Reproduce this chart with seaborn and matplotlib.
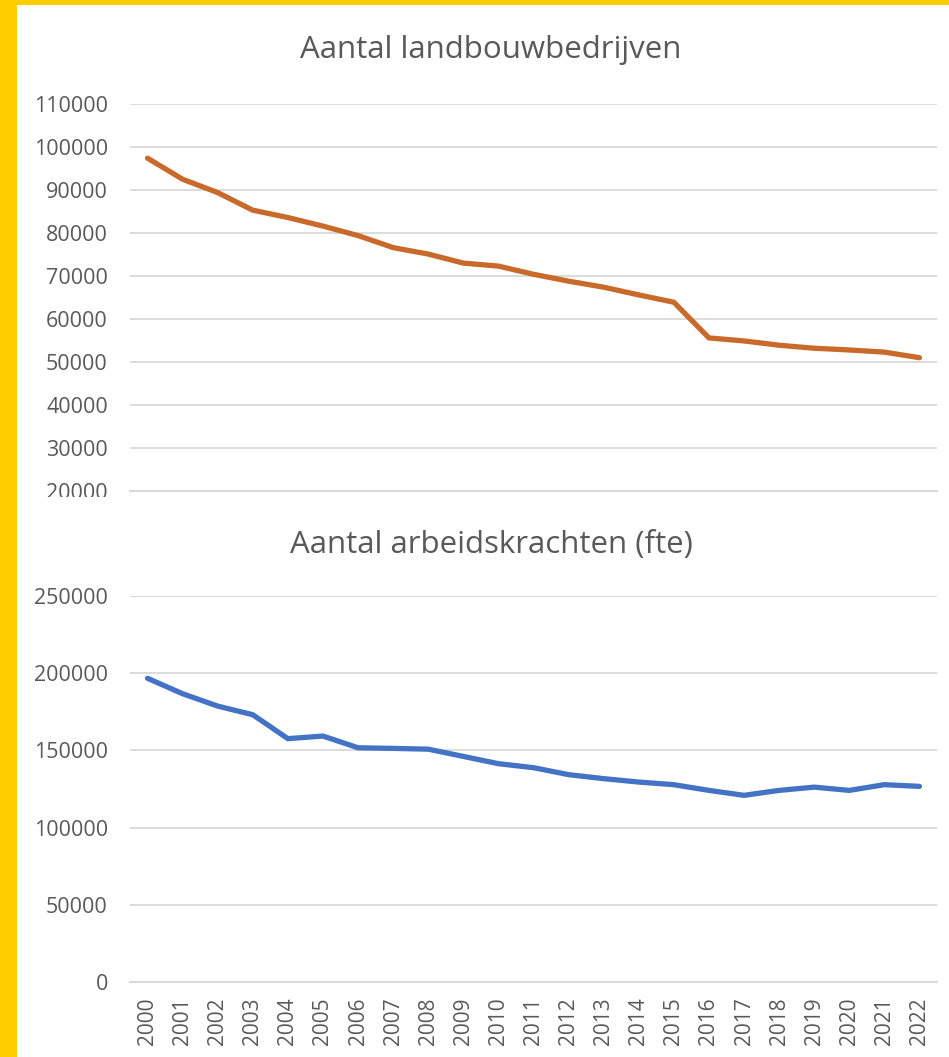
import pandas as pd
import matplotlib.pyplot as plt
import seaborn as sns
from matplotlib.patches import Rectangle

# data
years = list(range(2000, 2023))
bedrijven = [97400, 92500, 89400, 85300, 83600, 81600, 79400, 76600, 75100, 73000,
             72300, 70400, 68800, 67400, 65600, 63900, 55600, 54900, 53900, 53200,
             52800, 52300, 51000]
arbeidskrachten = [196700, 186700, 178700, 173100, 157600, 159300, 151700, 151300, 150800, 146100,
                   141400, 138800, 134300, 131700, 129500, 127800, 124100, 120900, 124100, 126200,
                   124100, 127800, 126700]

df = pd.DataFrame({'jaar': years, 'bedrijven': bedrijven, 'fte': arbeidskrachten})

sns.set_style('white')
plt.rcParams['font.family'] = ['Open Sans', 'DejaVu Sans']

grey_text = '#595959'
grid_col = '#D9D9D9'

fig = plt.figure(figsize=(9.49, 10.57), dpi=100)
fig.patch.set_facecolor('#FFCD00')
fig.patches.append(Rectangle((17 / 949, 0), 1, 1 - 5 / 1057, transform=fig.transFigure,
                             facecolor='white', edgecolor='none', zorder=-1))

left, width = 130 / 949, 807 / 949
ax1 = fig.add_axes([left, 1 - 491 / 1057, width, 387 / 1057])
ax2 = fig.add_axes([left, 1 - 982 / 1057, width, 386 / 1057])

# top: number of farms
sns.lineplot(data=df, x='jaar', y='bedrijven', ax=ax1, color='#C96A2B', linewidth=3.8)
ax1.set_ylim(20000, 110000)
ax1.set_yticks(range(20000, 110001, 10000))

# bottom: labour force (fte)
sns.lineplot(data=df, x='jaar', y='fte', ax=ax2, color='#4472C4', linewidth=3.8)
ax2.set_ylim(0, 250000)
ax2.set_yticks(range(0, 250001, 50000))

for ax in (ax1, ax2):
    ax.set_xlim(1999.5, 2022.5)
    ax.set_xticks(years)
    ax.set_xlabel('')
    ax.set_ylabel('')
    ax.grid(axis='y', color=grid_col, linewidth=1.3)
    ax.set_axisbelow(True)
    for s in ['top', 'right', 'left']:
        ax.spines[s].set_visible(False)
    ax.spines['bottom'].set_color(grid_col)
    ax.spines['bottom'].set_linewidth(1.5)
    ax.tick_params(axis='y', length=0, pad=16, labelsize=15.5, labelcolor=grey_text)
    ax.tick_params(axis='x', length=0, pad=11, labelsize=15, labelcolor=grey_text)

ax1.set_xticklabels([])
ax2.set_xticklabels([str(y) for y in years], rotation=90)

fig.text(491 / 949, 1 - 50 / 1057, 'Aantal landbouwbedrijven', ha='center', va='center',
         fontsize=22.5, color=grey_text)
fig.text(491 / 949, 1 - 545 / 1057, 'Aantal arbeidskrachten (fte)', ha='center', va='center',
         fontsize=22.5, color=grey_text)

# the lower chart sits over the bottom of the first one, cutting its last label
fig.add_artist(Rectangle((17 / 949, 1 - 510 / 1057), 113 / 949, 13 / 1057,
                         transform=fig.transFigure, facecolor='white', edgecolor='none', zorder=5))

plt.savefig('out.png', dpi=100)
